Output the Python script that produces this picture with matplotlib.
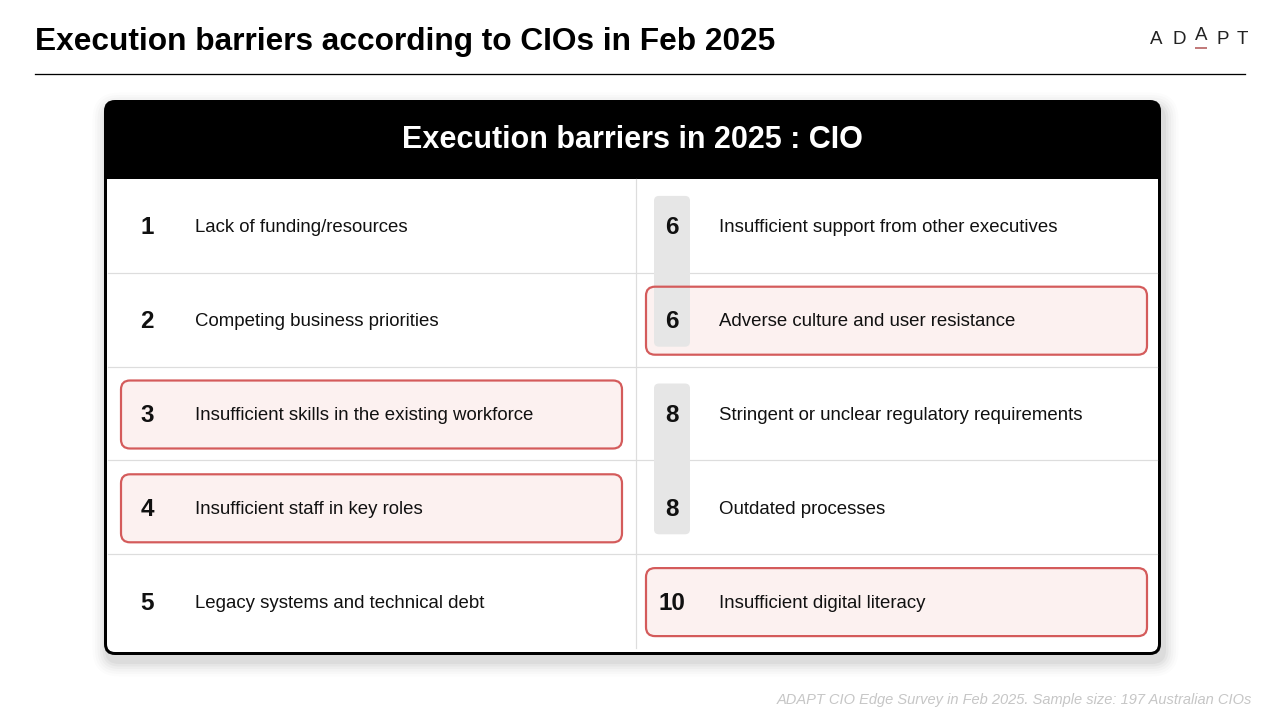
import matplotlib
matplotlib.use("Agg")
import matplotlib.pyplot as plt
from matplotlib.patches import FancyBboxPatch, Rectangle

plt.rcParams['font.family'] = ['Liberation Sans', 'DejaVu Sans']

# ---- data ----
page_title = "Execution barriers according to CIOs in Feb 2025"
card_title = "Execution barriers in 2025 : CIO"
footnote = "ADAPT CIO Edge Survey in Feb 2025. Sample size: 197 Australian CIOs"

left_ranks = [1, 2, 3, 4, 5]
left_labels = ["Lack of funding/resources",
               "Competing business priorities",
               "Insufficient skills in the existing workforce",
               "Insufficient staff in key roles",
               "Legacy systems and technical debt"]
left_highlight = [False, False, True, True, False]

right_ranks = [6, 6, 8, 8, 10]
right_labels = ["Insufficient support from other executives",
                "Adverse culture and user resistance",
                "Stringent or unclear regulatory requirements",
                "Outdated processes",
                "Insufficient digital literacy"]
right_highlight = [False, True, False, False, True]

# ---- figure ----
fig = plt.figure(figsize=(12.8, 7.2), dpi=100)
ax = fig.add_axes([0, 0, 1, 1])
ax.set_xlim(0, 1280)
ax.set_ylim(720, 0)
ax.axis('off')

PT = 72 / 100  # px -> pt

# page title & rule
ax.text(35, 42, page_title, fontsize=22.8, fontweight='bold', color='black',
        ha='left', va='center')
ax.plot([35, 1245], [74, 74], color='black', lw=1.3 * PT)

# ADAPT logo
logo_letters = ["A", "D", "A", "P", "T"]
logo_x = [1156, 1179, 1201, 1223, 1242]
logo_dy = [0, 0, -5, 0, 0]
for ch, lx, dy in zip(logo_letters, logo_x, logo_dy):
    ax.text(lx, 40 + dy, ch, fontsize=13.5, color='#222222', ha='center',
            va='center', fontweight='light')
ax.plot([1195, 1207], [47.5, 47.5], color='#c27b7b', lw=2 * PT, solid_capstyle='butt')

# card geometry
cx0, cx1, cy0, cy1 = 104, 1161, 100, 655
head_h = 79
row_top = cy0 + head_h
n_rows = len(left_ranks)
row_h = (648 - row_top) / n_rows
mid_x = 636

# shadow
for i, a in enumerate([0.035, 0.03, 0.025, 0.02, 0.015, 0.01]):
    e = 2 + i * 2.5
    ax.add_patch(FancyBboxPatch((cx0 - e + 3, cy0 - e + 7), cx1 - cx0 + 2 * e, cy1 - cy0 + 2 * e,
                                boxstyle=f"round,pad=0,rounding_size={12 + e}",
                                fc='black', ec='none', alpha=a, zorder=0))

ax.add_patch(FancyBboxPatch((cx0, cy0), cx1 - cx0, cy1 - cy0,
                            boxstyle="round,pad=0,rounding_size=11",
                            fc='black', ec='none', zorder=1))
ax.add_patch(FancyBboxPatch((cx0 + 3, row_top), cx1 - cx0 - 6, cy1 - 3 - row_top,
                            boxstyle="round,pad=0,rounding_size=8",
                            fc='white', ec='none', zorder=2))
ax.add_patch(Rectangle((cx0 + 3, row_top), cx1 - cx0 - 6, 20,
                       fc='white', ec='none', zorder=2))
ax.text((cx0 + cx1) / 2, cy0 + head_h / 2 + 1, card_title, color='white',
        fontsize=22, fontweight='bold', ha='center', va='center', zorder=4)

# grid lines
for i in range(1, n_rows):
    y = row_top + i * row_h
    ax.plot([cx0 + 4, cx1 - 4], [y, y], color='#dddddd', lw=1.2 * PT, zorder=3)
ax.plot([mid_x, mid_x], [row_top, 648], color='#dddddd', lw=1.2 * PT, zorder=3)

RED_EC = '#d45b5b'
RED_FC = '#fcf1f0'
PILL = '#e6e6e6'


def draw_column(ranks, labels, highlight, x_left, x_right, rank_x, text_x, pill_x):
    centers = [row_top + (i + 0.5) * row_h for i in range(len(ranks))]
    for c, h in zip(centers, highlight):
        if h:
            ax.add_patch(FancyBboxPatch((x_left, c - 33), x_right - x_left, 68,
                                        boxstyle="round,pad=0,rounding_size=9",
                                        fc=RED_FC, ec='none', zorder=4))
    i = 0
    while i < len(ranks):
        j = i
        while j + 1 < len(ranks) and ranks[j + 1] == ranks[i]:
            j += 1
        if j > i:
            y0 = centers[i] - 30
            y1 = centers[j] + 27
            ax.add_patch(FancyBboxPatch((pill_x, y0), 36, y1 - y0,
                                        boxstyle="round,pad=0,rounding_size=5",
                                        fc=PILL, ec='none', zorder=5))
        i = j + 1
    for c, h in zip(centers, highlight):
        if h:
            ax.add_patch(FancyBboxPatch((x_left, c - 33), x_right - x_left, 68,
                                        boxstyle="round,pad=0,rounding_size=9",
                                        fc='none', ec=RED_EC, lw=2.2 * PT, zorder=6))
    for c, r, lab in zip(centers, ranks, labels):
        ax.text(rank_x, c + 2, str(r), fontsize=17.5, fontweight='bold', color='#111111',
                ha='center', va='center', zorder=7)
        ax.text(text_x, c + 2, lab, fontsize=13.4, color='#111111',
                ha='left', va='center', zorder=7)


draw_column(left_ranks, left_labels, left_highlight, 121, 622, 147, 195, 129)
draw_column(right_ranks, right_labels, right_highlight, 646, 1147, 672, 719, 654)

# footnote
ax.text(1252, 700, footnote, fontsize=10.5, style='italic', color='#c6c6c6',
        ha='right', va='center')

fig.savefig("out.png", dpi=100)
